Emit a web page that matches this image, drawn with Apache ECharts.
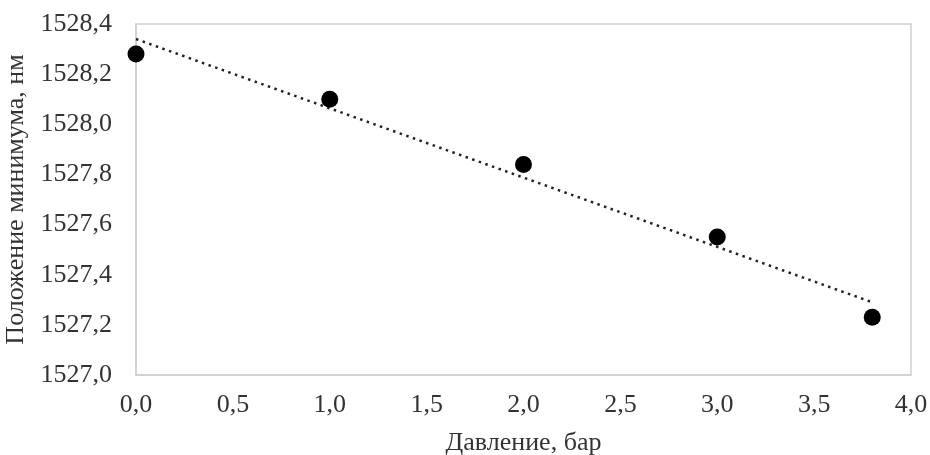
<!DOCTYPE html>
<html><head><meta charset="utf-8">
<script src="https://cdn.jsdelivr.net/npm/echarts@6/dist/echarts.min.js"></script>
<style>html,body{margin:0;padding:0;background:#fff}#c{width:930px;height:455px}</style>
</head><body><div id="c"></div>
<script>
const pressure = [0, 1, 2, 3, 3.8];
const minPos = [1528.28, 1528.10, 1527.84, 1527.55, 1527.23];
const trendX = [0, 3.8];
const trendY = [1528.34, 1527.29];
const xTitle = 'Давление, бар';
const yTitle = 'Положение минимума, нм';

const font = '"Liberation Serif", "DejaVu Serif", serif';
const fmt = (d) => (v) => v.toFixed(d).replace('.', ',');
const chart = echarts.init(document.getElementById('c'));
chart.setOption({
  animation: false,
  grid: {left: 136, right: 19, top: 24, bottom: 80, show: true, borderColor: '#d0d0d0', borderWidth: 1.5,
         containLabel: false, outerBoundsMode: 'none'},
  xAxis: {
    type: 'value', min: 0, max: 4, interval: 0.5,
    name: xTitle, nameLocation: 'middle', nameGap: 55,
    nameTextStyle: {fontFamily: font, fontSize: 26, color: '#333'},
    axisLine: {show: true, lineStyle: {color: '#d0d0d0', width: 1.5}},
    axisTick: {show: false}, splitLine: {show: false},
    axisLabel: {formatter: fmt(1), fontFamily: font, fontSize: 26, color: '#333', margin: 17}
  },
  yAxis: {
    type: 'value', min: 1527.0, max: 1528.4, interval: 0.2,
    name: yTitle, nameLocation: 'middle', nameGap: 94,
    nameTextStyle: {fontFamily: font, fontSize: 26, color: '#333'},
    axisLine: {show: true, lineStyle: {color: '#d0d0d0', width: 1.5}},
    axisTick: {show: false}, splitLine: {show: false},
    axisLabel: {formatter: fmt(1), fontFamily: font, fontSize: 26, color: '#333', margin: 24}
  },
  series: [
    {
      type: 'line', data: trendX.map((x, i) => [x, trendY[i]]),
      symbol: 'none', lineStyle: {color: '#222', width: 2.5, type: [2.5, 4.5]}, z: 2
    },
    {
      type: 'scatter', data: pressure.map((x, i) => [x, minPos[i]]),
      symbol: 'circle', symbolSize: 17, itemStyle: {color: '#000', opacity: 1}, z: 3
    }
  ]
});
</script></body></html>
